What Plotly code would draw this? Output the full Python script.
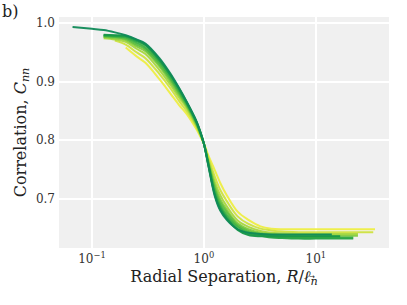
import plotly.graph_objects as go

# Shared radial-separation grid (R / l_n)
R = [0.067, 0.1, 0.127, 0.16, 0.2, 0.25, 0.3, 0.4, 0.5, 0.6, 0.7, 0.85, 0.92, 1.0,
     1.1, 1.25, 1.4, 1.6, 2.0, 2.5, 3.2, 4.0, 5.0, 7.0, 10.0, 13.9, 16.5, 21.6, 23.8, 32.6, 33.8]

N = None
c0 = [N, N, N, N, 0.958, 0.943, 0.932, 0.904, 0.880, 0.860, 0.845, 0.820, 0.808, 0.794,
      0.773, 0.749, 0.727, 0.706, 0.678, 0.664, 0.653, 0.649, 0.648, 0.648, 0.648, 0.648, 0.648, 0.648, 0.648, 0.648, 0.648]
c1 = [N, N, N, 0.970, 0.963, 0.950, 0.940, 0.913, 0.889, 0.867, 0.850, 0.824, 0.810, 0.794,
      0.769, 0.738, 0.715, 0.696, 0.670, 0.657, 0.649, 0.646, 0.644, 0.643, 0.643, 0.643, 0.643, 0.643, 0.643, 0.643, N]
c2 = [N, N, 0.974, 0.972, 0.968, 0.956, 0.947, 0.920, 0.895, 0.873, 0.855, 0.826, 0.812, 0.794,
      0.765, 0.729, 0.706, 0.687, 0.663, 0.652, 0.645, 0.642, 0.641, 0.640, 0.640, 0.640, 0.640, 0.640, 0.640, N, N]
c3 = [N, N, 0.976, 0.974, 0.971, 0.960, 0.952, 0.926, 0.900, 0.877, 0.858, 0.828, 0.813, 0.794,
      0.762, 0.723, 0.699, 0.681, 0.658, 0.648, 0.642, 0.640, 0.638, 0.637, 0.637, 0.637, 0.637, 0.637, 0.637, N, N]
c4 = [N, N, 0.977, 0.976, 0.973, 0.963, 0.955, 0.929, 0.904, 0.880, 0.860, 0.830, 0.814, 0.794,
      0.760, 0.718, 0.694, 0.677, 0.655, 0.645, 0.640, 0.638, 0.636, 0.635, 0.635, 0.635, 0.635, N, N, N, N]
c5 = [N, N, 0.978, 0.977, 0.975, 0.966, 0.958, 0.933, 0.907, 0.883, 0.862, 0.831, 0.815, 0.794,
      0.759, 0.714, 0.689, 0.672, 0.652, 0.642, 0.639, 0.636, 0.635, 0.634, 0.634, 0.634, 0.634, 0.634, N, N, N]
c6 = [N, N, 0.979, 0.978, 0.977, 0.969, 0.962, 0.936, 0.911, 0.886, 0.864, 0.833, 0.816, 0.794,
      0.757, 0.709, 0.685, 0.668, 0.648, 0.640, 0.637, 0.634, 0.633, 0.632, 0.632, 0.632, 0.632, 0.632, N, N, N]
c7 = [N, N, 0.980, 0.979, 0.978, 0.971, 0.963, 0.938, 0.912, 0.888, 0.865, 0.833, 0.816, 0.794,
      0.756, 0.707, 0.682, 0.666, 0.647, 0.638, 0.636, 0.636, 0.636, 0.636, 0.636, 0.636, 0.636, N, N, N, N]
c8 = [0.993, 0.990, 0.988, 0.984, 0.979, 0.972, 0.965, 0.940, 0.914, 0.889, 0.866, 0.834, 0.817, 0.794,
      0.755, 0.705, 0.680, 0.664, 0.648, 0.642, 0.640, 0.639, 0.639, 0.639, 0.639, 0.639, N, N, N, N, N]

series = [c0, c1, c2, c3, c4, c5, c6, c7, c8]
colors = ["#eeee44", "#cfe340", "#a9d840", "#84cc40", "#5fbf40", "#40b242",
          "#27a446", "#18984a", "#0f8a58"]

x_ticks = [0.1, 1, 10]
x_tick_labels = ["10<sup>−1</sup>", "10<sup>0</sup>", "10<sup>1</sup>"]
y_ticks = [0.7, 0.8, 0.9, 1.0]
y_tick_labels = ["0.7", "0.8", "0.9", "1.0"]

fig = go.Figure()
for ys, col in zip(series, colors):
    fig.add_trace(go.Scatter(x=R, y=ys, mode="lines",
                             line=dict(color=col, width=2, shape="spline", smoothing=1.0),
                             connectgaps=False, showlegend=False, opacity=0.95,
                             hoverinfo="skip"))

serif = "DejaVu Serif"
fig.update_layout(
    width=407, height=305,
    margin=dict(l=59, r=18, t=17, b=57, autoexpand=False),
    paper_bgcolor="white", plot_bgcolor="#f0f0f0",
    font=dict(family=serif, size=12, color="#222"),
    xaxis=dict(type="log", range=[-1.295, 1.654], tickvals=x_ticks, ticktext=x_tick_labels,
               showgrid=True, gridcolor="white", gridwidth=1.5, zeroline=False, automargin=False,
               ticks="", showline=False, tickfont=dict(size=12, color="#333"),
               ticklabelstandoff=2,
               title=dict(text="Radial Separation, <i>R</i>/<i>ℓ</i><sub><i>n</i></sub>",
                          font=dict(size=16, family=serif, color="#222"), standoff=5)),
    yaxis=dict(range=[0.616, 1.0102], tickvals=y_ticks, ticktext=y_tick_labels,
               showgrid=True, gridcolor="white", gridwidth=1.5, zeroline=False, automargin=False,
               ticks="", showline=False, tickfont=dict(size=12, color="#333"),
               ticklabelstandoff=3,
               title=dict(text="Correlation, <i>C</i><sub><i>nn</i></sub>",
                          font=dict(size=16, family=serif, color="#222"), standoff=5)),
    annotations=[
        dict(text="b)", xref="paper", yref="paper", x=-0.179, y=1.0736,
             xanchor="left", yanchor="top", showarrow=False,
             font=dict(size=16, family=serif, color="#222")),
        dict(text="→", xref="paper", yref="paper", x=(312 - 59) / 330, y=(248 - 277) / 231,
             xanchor="center", yanchor="middle", showarrow=False,
             font=dict(size=7, family="DejaVu Sans", color="#222")),
    ],
)

fig.write_html("out.html", post_script="document.body.style.margin='0';",
               config={"displayModeBar": False})
